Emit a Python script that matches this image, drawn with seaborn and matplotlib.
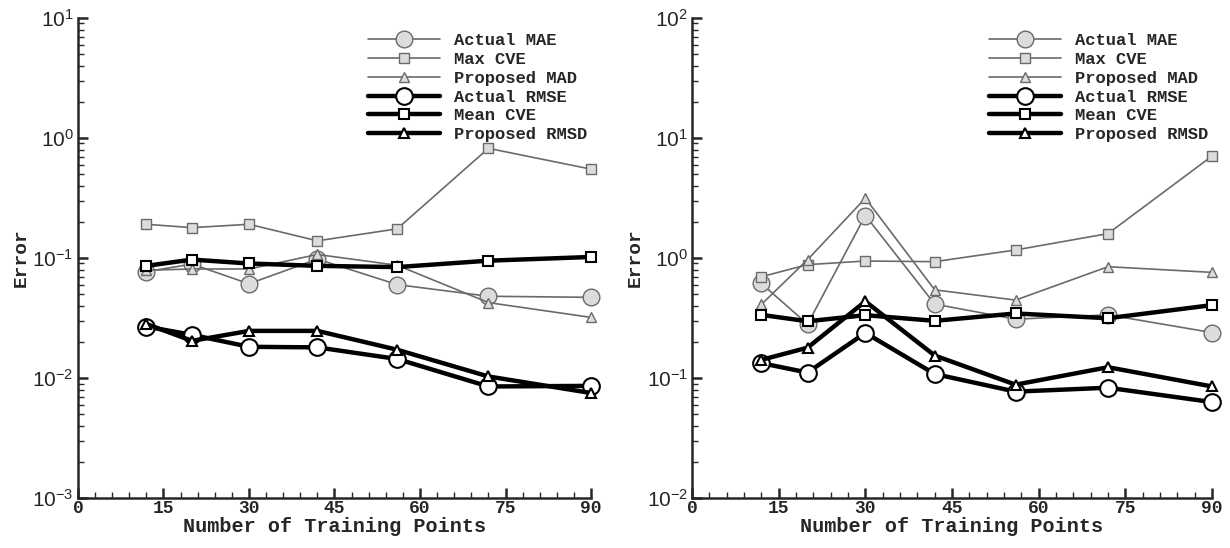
import numpy as np
import pandas as pd
import matplotlib
matplotlib.use("Agg")
import matplotlib.pyplot as plt
import matplotlib.ticker as mticker
import seaborn as sns

# training sizes
n_train = [12, 20, 30, 42, 56, 72, 90]

# left panel
left_mae = [0.077, 0.089, 0.061, 0.098, 0.060, 0.048, 0.047]
left_max_cve = [0.191, 0.179, 0.191, 0.139, 0.175, 0.82, 0.55]
left_mad = [0.079, 0.081, 0.081, 0.107, 0.087, 0.0425, 0.032]
left_rmse = [0.0268, 0.0229, 0.0182, 0.0180, 0.0144, 0.0085, 0.0086]
left_mean_cve = [0.086, 0.097, 0.090, 0.086, 0.084, 0.095, 0.102]
left_rmsd = [0.0282, 0.0204, 0.0247, 0.0247, 0.0172, 0.0103, 0.0075]

# right panel
right_mae = [0.614, 0.281, 2.26, 0.413, 0.309, 0.336, 0.239]
right_max_cve = [0.698, 0.88, 0.944, 0.932, 1.166, 1.597, 7.07]
right_mad = [0.41, 0.968, 3.15, 0.543, 0.446, 0.846, 0.759]
right_rmse = [0.133, 0.111, 0.238, 0.108, 0.077, 0.083, 0.063]
right_mean_cve = [0.336, 0.297, 0.334, 0.2995, 0.345, 0.315, 0.405]
right_rmsd = [0.1416, 0.179, 0.435, 0.154, 0.088, 0.123, 0.085]

labels = ["Actual MAE", "Max CVE", "Proposed MAD", "Actual RMSE", "Mean CVE", "Proposed RMSD"]

sns.set_style("ticks")
plt.rcParams['font.family'] = ['Liberation Sans', 'DejaVu Sans']
plt.rcParams['mathtext.fontset'] = 'custom'
plt.rcParams['mathtext.rm'] = 'Liberation Sans'

MONO = 'Liberation Mono'
GRAY_LINE = '#6a6a6a'
GRAY_FACE = '#dcdcdc'

styles = [
    dict(marker='o', color=GRAY_LINE, lw=1.2, ms=12, mfc=GRAY_FACE, mec=GRAY_LINE, mew=1.0),
    dict(marker='s', color=GRAY_LINE, lw=1.2, ms=6.5, mfc=GRAY_FACE, mec=GRAY_LINE, mew=1.0),
    dict(marker='^', color=GRAY_LINE, lw=1.2, ms=7.5, mfc=GRAY_FACE, mec=GRAY_LINE, mew=1.0),
    dict(marker='o', color='black', lw=3.2, ms=12, mfc='white', mec='black', mew=1.5),
    dict(marker='s', color='black', lw=3.2, ms=6.5, mfc='white', mec='black', mew=1.5),
    dict(marker='^', color='black', lw=3.2, ms=7.5, mfc='white', mec='black', mew=1.5),
]

fig = plt.figure(figsize=(12.3, 5.48), dpi=100)
ax1 = fig.add_axes([0.0634, 0.0912, 0.4171, 0.876])
ax2 = fig.add_axes([0.5626, 0.0912, 0.4228, 0.876])

panels = [
    (ax1, [left_mae, left_max_cve, left_mad, left_rmse, left_mean_cve, left_rmsd], (1e-3, 1e1)),
    (ax2, [right_mae, right_max_cve, right_mad, right_rmse, right_mean_cve, right_rmsd], (1e-2, 1e2)),
]

for ax, series, ylim in panels:
    for vals, lab, st in zip(series, labels, styles):
        sns.lineplot(x=n_train, y=vals, ax=ax, label=lab, markersize=st['ms'],
                     marker=st['marker'], color=st['color'], linewidth=st['lw'],
                     markerfacecolor=st['mfc'], markeredgecolor=st['mec'],
                     markeredgewidth=st['mew'], clip_on=False)
    ax.set_yscale('log')
    ax.set_ylim(*ylim)
    ax.set_xlim(0, 90)
    ax.set_xticks(np.arange(0, 91, 15))
    ax.xaxis.set_minor_locator(mticker.MultipleLocator(3))
    ax.yaxis.set_major_locator(mticker.LogLocator(base=10, numticks=10))
    ax.yaxis.set_minor_locator(mticker.LogLocator(base=10, subs=np.arange(2, 10), numticks=20))
    ax.yaxis.set_minor_formatter(mticker.NullFormatter())
    for s in ['top', 'right']:
        ax.spines[s].set_visible(False)
    for s in ['left', 'bottom']:
        ax.spines[s].set_linewidth(1.8)
    ax.tick_params(which='major', direction='in', length=7.5, width=1.8, pad=3)
    ax.tick_params(axis='y', which='major', labelsize=15)
    ax.tick_params(axis='x', which='major', labelsize=13, pad=1.5)
    ax.tick_params(which='minor', direction='in', length=4.2, width=1.0)
    for t in ax.get_xticklabels():
        t.set_fontfamily(MONO)
        t.set_fontweight('bold')
    ax.set_xlabel('Number of Training Points', fontfamily=MONO, fontweight='bold', fontsize=14.5, labelpad=0)
    ax.set_ylabel('Error', fontfamily=MONO, fontweight='bold', fontsize=14, labelpad=2)
    ax.legend(loc='upper right', bbox_to_anchor=(1.022, 1.0), frameon=False,
              prop={'family': MONO, 'weight': 'bold', 'size': 12.3},
              handlelength=4.2, handletextpad=0.8, labelspacing=0.22, borderaxespad=0.5)

fig.savefig('out.png', dpi=100)
